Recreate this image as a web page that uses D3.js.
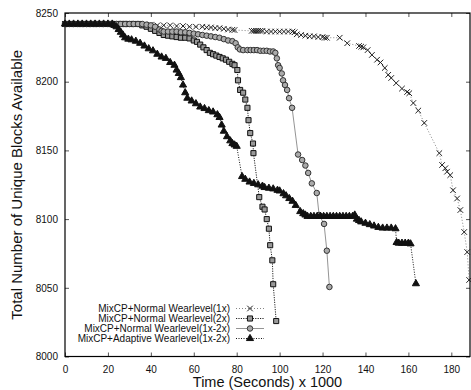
<!DOCTYPE html>
<html>
<head>
<meta charset="utf-8">
<script src="https://d3js.org/d3.v7.min.js"></script>
<style>
body { margin: 0; background: #fff; }
text { font-family: "Liberation Sans", Arial, sans-serif; fill: #111; }
</style>
</head>
<body>
<script>
// values: [time (s x 1000), unique blocks]
var normal1x = [
  [0,8242],[2,8242],[4,8242],[6,8242],[8,8242],[10,8242],[12,8242],[14,8242],[16,8242],[18,8242],
  [20,8242],[22,8242],[24,8242],[26,8242],[28,8242],[30,8242],[32,8242],[34,8242],
  [37,8241.5],[40,8241.5],[43,8241],[46,8241],[49,8241],[52,8240.5],[55,8240.5],[58,8240],
  [61,8240],[64,8240],[66,8239.5],[68,8239.5],[70,8239],[72,8239],[74,8238.5],[76,8238],
  [78,8237.8],[79,8237.6],[87,8237],[88,8237],[89,8237],[90,8237],[91,8237],[92,8237],
  [94,8236.5],[96,8236.5],[98,8236.5],[100,8236.5],[102,8236.5],[104,8236.5],[106,8236.5],[107,8236],
  [108,8234.5],[110,8234],[112,8233.5],[114,8233],[116,8233],[118,8232.5],[120,8232.5],[121,8232],
  [122,8232],[128,8232],[131.5,8228],[137,8226],[138,8225.5],[139,8225],[141,8223],[143,8219.5],
  [145.4,8216],[147,8214],[149,8210],[150.6,8205],[152,8202.7],[154.3,8199],[157,8195],[159.4,8192.5],
  [160.4,8191.6],[162.3,8184.5],[164.6,8179],[167.4,8170],[174.4,8148],[175.7,8139.4],[177.2,8137],
  [178,8134.5],[179.5,8132],[180.8,8121],[182.7,8115],[184.2,8106.6],[186,8090.6],[187.4,8076],[188.3,8055.7]
];
var normal2x = [
  [0,8242],[2,8242],[4,8242],[6,8242],[8,8242],[10,8242],[12,8242],[14,8242],[16,8242],[18,8242],
  [20,8242],[22,8242],[24,8242],[26,8242],[28,8242],[30,8242],[32,8242],[34,8242],
  [36,8241],[38,8240],[40,8238.5],[42,8237],[44,8235.5],[46,8234],[48,8233.5],[50,8233],[52,8232.5],
  [54,8232],[56,8232],[58,8231.5],[60,8230],[61.5,8229],[63,8227],[64.5,8225],[66,8223],[67.5,8221],
  [69,8220],[70.5,8219],[72,8218],[73.5,8217],[75,8216],[76.5,8214.5],[78,8213],[79,8212],
  [80.3,8208.5],[80.6,8201],[81.6,8194],[83,8192],[84,8187],[85,8181],[85.5,8172],[86.3,8162.6],
  [87.6,8155],[87.8,8148],[90.5,8116],[92,8109],[93,8107],[94,8100],[95,8093],[95.6,8081],
  [96.6,8070],[97,8052.6],[98.4,8025.8]
];
var normal1x2x = [
  [0,8242],[2,8242],[4,8242],[6,8242],[8,8242],[10,8242],[12,8242],[14,8242],[16,8242],[18,8242],
  [20,8242],[22,8242],[24,8242],[26,8242],[28,8242],[30,8242],[32,8242],[34,8242],
  [36,8242],[38,8241.5],[40,8241],[42,8240],[44,8238],[45,8237],[46,8236.5],[48,8236.5],[50,8236.5],
  [52,8236.5],[54,8236],[56,8236],[58,8235.5],[60,8235],[62,8234.5],[64,8234],[66,8233.5],[68,8233],
  [70,8232.5],[72,8232],[74,8231],[76,8230],[78,8229.5],[79.5,8228],[80.5,8225],[81.5,8223.5],
  [83,8223],[85,8223],[86.5,8223],[88,8223],[89.5,8223],[91,8222.5],[92.5,8222.5],[94,8222.5],
  [95.5,8222],[97,8222],[98,8221],[98.7,8217],[99.3,8212],[100,8210],[101,8206],[101.6,8201],
  [102.5,8197.6],[103.5,8194],[104.4,8188],[105.8,8181],[108.6,8147],[110.5,8143],[112,8139],
  [113.3,8133.6],[115,8126],[117.3,8119],[118.4,8103],[120.7,8096.5],[122,8077],[123.2,8050.6]
];
var adaptive1x2x = [
  [0,8242],[2,8242],[4,8242],[6,8242],[8,8242],[10,8242],[12,8242],[14,8242],[16,8242],[18,8242],
  [20,8242],[22,8242],[23,8241],[24,8240],[25,8238],[26,8236],[27,8234],[28,8232],[29.5,8231],
  [31,8230.5],[33,8229.5],[35,8228],[37,8226],[39,8224],[41,8222.5],[43,8220],[45,8218],[47,8217],
  [49,8214],[51,8212],[52,8208.5],[53,8206],[54,8203],[55,8197.6],[56,8192],[57,8188],[59,8186],
  [61,8184],[63,8181.6],[65,8180.5],[67,8179],[69,8178],[71,8176],[72,8174],[73,8168.5],[74,8164],
  [75.5,8160],[77,8157],[78,8155],[79,8154],[80,8153],[82.5,8131],[84,8129],[86,8127],[88,8126],
  [90,8125],[92,8124],[93,8123],[95,8122.5],[97,8122],[99,8121],[100,8120.5],[101.8,8118.5],
  [103,8117],[104.5,8115],[106,8113],[107.5,8110],[109.6,8105.5],[111,8104],[112,8103],[113,8102],
  [114.5,8102],[116,8102],[117.5,8102],[119,8102],[120.5,8102],[122,8102],[123.5,8102],[125,8102],
  [126.5,8102],[128,8102],[129.5,8102],[131,8102],[132.5,8102],[134,8102],[135,8103],[136,8100],
  [137,8099],[138,8098],[140,8097],[142,8096],[144,8095],[146,8094],[148,8093.5],[150,8093.5],
  [152,8093.5],[154,8093],[154.5,8083],[155.5,8082.5],[157,8082.5],[158.5,8082.5],[160,8082.5],
  [161,8082],[163.5,8053]
];

var seriesNames = [
  "MixCP+Normal Wearlevel(1x)",
  "MixCP+Normal Wearlevel(2x)",
  "MixCP+Normal Wearlevel(1x-2x)",
  "MixCP+Adaptive Wearlevel(1x-2x)"
];
var xTicks = [0, 20, 40, 60, 80, 100, 120, 140, 160, 180];
var yTicks = [8000, 8050, 8100, 8150, 8200, 8250];

var width = 471, height = 390;
var mLeft = 65, mRight = 470, mTop = 13, mBottom = 356.5;

var svg = d3.select("body").append("svg")
  .attr("width", width)
  .attr("height", height);

var x = d3.scaleLinear().domain([0, 188.7]).range([mLeft, mRight]);
var y = d3.scaleLinear().domain([8000, 8250]).range([mBottom, mTop]);

// axes, ticks pointing inward
var gx = svg.append("g").attr("transform", "translate(0," + mBottom + ")")
  .call(d3.axisBottom(x).tickValues(xTicks).tickSize(-4).tickPadding(9));
var gy = svg.append("g").attr("transform", "translate(" + mLeft + ",0)")
  .call(d3.axisLeft(y).tickValues(yTicks).tickSize(-4).tickPadding(7).tickFormat(d3.format("d")));
var gt = svg.append("g").attr("transform", "translate(0," + mTop + ")")
  .call(d3.axisTop(x).tickValues(xTicks).tickSize(-4).tickFormat(""));
var gr = svg.append("g").attr("transform", "translate(" + mRight + ",0)")
  .call(d3.axisRight(y).tickValues(yTicks).tickSize(-4).tickFormat(""));

[gx, gy, gt, gr].forEach(function(g) {
  g.select(".domain").remove();
  g.selectAll("line").attr("stroke", "#555");
  g.selectAll("text").style("font-family", "'Liberation Sans', Arial, sans-serif")
    .style("font-size", "10px").attr("fill", "#111");
});

svg.append("rect")
  .attr("x", mLeft).attr("y", mTop)
  .attr("width", mRight - mLeft).attr("height", mBottom - mTop)
  .attr("fill", "none").attr("stroke", "#000").attr("stroke-width", 1.2);

// axis titles
svg.append("text")
  .attr("x", (mLeft + mRight) / 2).attr("y", 387)
  .attr("text-anchor", "middle")
  .style("font-size", "14.5px")
  .text("Time (Seconds) x 1000");
svg.append("text")
  .attr("transform", "translate(22," + (mTop + mBottom) / 2 + ") rotate(-90)")
  .attr("text-anchor", "middle")
  .style("font-size", "15px")
  .text("Total Number of Unique Blocks Available");

var styles = [
  { line: "#777", dash: "1,2", width: 0.9, sym: d3.symbolX, size: 22, fill: "none", stroke: "#222" },
  { line: "#222", dash: "1.2,1.2", width: 1, sym: d3.symbolSquare, size: 26, fill: "#999", stroke: "#111" },
  { line: "#888", dash: null, width: 0.9, sym: d3.symbolCircle, size: 24, fill: "#aaa", stroke: "#333" },
  { line: "#111", dash: "1,1.5", width: 1, sym: d3.symbolTriangle, size: 22, fill: "#111", stroke: "#111" }
];
var allSeries = [normal1x, normal2x, normal1x2x, adaptive1x2x];

var line = d3.line()
  .x(function(d) { return x(d[0]); })
  .y(function(d) { return y(d[1]); });

var plot = svg.append("g");
allSeries.forEach(function(data, i) {
  var s = styles[i];
  plot.append("path")
    .datum(data)
    .attr("d", line)
    .attr("fill", "none")
    .attr("stroke", s.line)
    .attr("stroke-width", s.width)
    .attr("stroke-dasharray", s.dash);
  plot.selectAll(".pt" + i)
    .data(data)
    .enter().append("path")
    .attr("class", "pt" + i)
    .attr("transform", function(d) { return "translate(" + x(d[0]) + "," + y(d[1]) + ")"; })
    .attr("d", d3.symbol().type(s.sym).size(s.size))
    .attr("fill", s.fill)
    .attr("stroke", s.stroke)
    .attr("stroke-width", 1);
});

// legend
var legend = svg.append("g");
seriesNames.forEach(function(name, i) {
  var s = styles[i];
  var ly = 308.5 + i * 10;
  legend.append("text")
    .attr("x", 230).attr("y", ly + 3.5)
    .attr("text-anchor", "end")
    .style("font-size", "10px")
    .text(name);
  legend.append("line")
    .attr("x1", 236).attr("x2", 264)
    .attr("y1", ly).attr("y2", ly)
    .attr("stroke", s.line)
    .attr("stroke-width", s.width)
    .attr("stroke-dasharray", s.dash);
  legend.append("path")
    .attr("transform", "translate(250," + ly + ")")
    .attr("d", d3.symbol().type(s.sym).size(s.size))
    .attr("fill", s.fill)
    .attr("stroke", s.stroke)
    .attr("stroke-width", 1);
});
</script>
</body>
</html>
